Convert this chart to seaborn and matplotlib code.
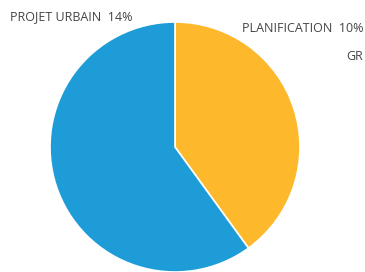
import matplotlib
matplotlib.use("Agg")
import matplotlib.pyplot as plt
import seaborn as sns

sns.set_theme(style="white")
plt.rcParams['font.family'] = ['Open Sans', 'DejaVu Sans']

categories = ["PLANIFICATION", "PROJET URBAIN"]
values = [40, 60]
colors = ["#FDB92B", "#1D9CD8"]
label_texts = ["PROJET URBAIN  14%", "PLANIFICATION  10%", "GR"]

fig = plt.figure(figsize=(3.65, 2.72), dpi=100)
ax = fig.add_axes([50/365, 0, 250/365, 250/272])
ax.pie(values, colors=colors, startangle=90, counterclock=False,
       wedgeprops=dict(edgecolor="white", linewidth=1.2))
ax.set_xlim(-1, 1)
ax.set_ylim(-1, 1)
ax.set_aspect("equal")
ax.axis("off")

tc = "#444444"
fig.text(10/365, 1 - 17/272, label_texts[0], fontsize=9, color=tc, ha="left", va="center")
fig.text(363/365, 1 - 29/272, label_texts[1], fontsize=9, color=tc, ha="right", va="center")
fig.text(363/365, 1 - 57/272, label_texts[2], fontsize=9, color=tc, ha="right", va="center")

fig.savefig("out.png", dpi=100)
